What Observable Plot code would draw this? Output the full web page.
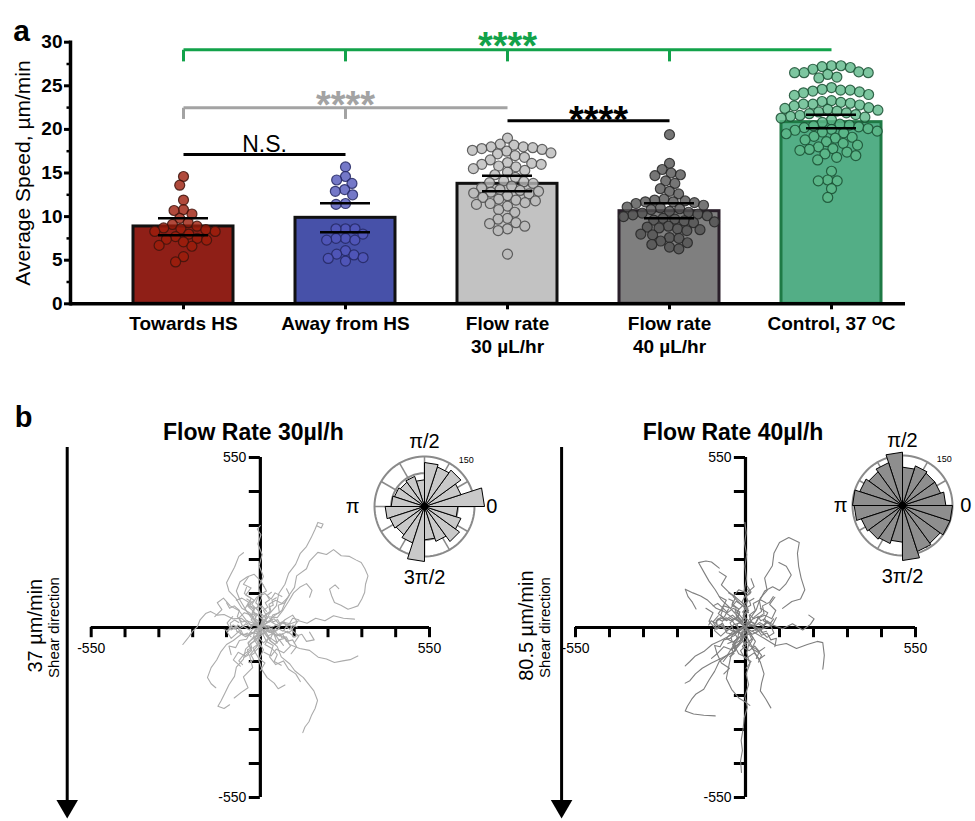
<!DOCTYPE html>
<html><head><meta charset="utf-8">
<script src="https://cdn.jsdelivr.net/npm/d3@7"></script>
<script src="https://cdn.jsdelivr.net/npm/@observablehq/plot@0.6"></script>
<style>
body{margin:0;background:#fff;}
#fig{position:relative;width:975px;height:821px;overflow:hidden;background:#fff;font-family:"Liberation Sans",Arial,Helvetica,sans-serif;}
#fig svg{position:absolute;overflow:visible;background:transparent !important;font-family:"Liberation Sans",Arial,Helvetica,sans-serif;}
</style></head><body><div id="fig"></div>
<script>
// ---------------- Panel a data ----------------
const cats = ["Towards HS", "Away from HS", "Flow rate\n30 µL/hr", "Flow rate\n40 µL/hr", "Control, 37 ᴼC"];
const towards = [14.6, 13.6, 11.9, 10.8, 10.7, 10.3, 9.8, 9.3, 9.1, 8.9, 8.7, 8.6, 8.5, 8.3, 8.3, 8.0, 7.7, 7.5, 7.4, 7.3, 7.1, 6.7, 6.6, 5.4, 4.8];
const away = [15.7, 14.6, 14.2, 13.8, 13.1, 12.9, 12.5, 11.5, 11.4, 8.6, 8.6, 8.6, 8.0, 7.5, 7.5, 7.3, 7.3, 6.1, 5.7, 5.6, 5.3, 5.2, 4.9];
const flow30 = [19.0, 18.3, 18.2, 18.0, 18.0, 17.9, 17.8, 17.7, 17.6, 17.5, 17.3, 17.2, 17.0, 16.8, 16.5, 16.2, 16.1, 16.0, 16.0, 15.8, 15.7, 15.5, 15.3, 15.1, 14.8, 14.5, 14.1, 14.0, 13.9, 13.8, 13.5, 13.3, 13.1, 13.0, 12.9, 12.8, 12.7, 12.6, 12.4, 12.2, 12.0, 11.9, 11.8, 11.6, 11.5, 11.4, 11.2, 10.8, 10.5, 9.8, 9.7, 9.3, 9.2, 8.9, 8.6, 8.4, 5.7];
const flow40 = [19.4, 16.1, 15.4, 15.0, 14.8, 14.7, 14.1, 13.8, 13.2, 12.9, 12.6, 12.0, 11.9, 11.8, 11.7, 11.7, 11.6, 11.5, 11.3, 11.1, 11.0, 10.9, 10.8, 10.6, 10.5, 10.4, 10.3, 10.2, 10.1, 10.0, 9.8, 9.7, 9.6, 9.5, 9.4, 9.3, 8.9, 8.8, 8.7, 8.6, 8.5, 8.4, 8.0, 7.9, 7.6, 7.5, 7.2, 7.0, 6.8, 6.5, 6.3];
const control = [27.3, 27.2, 27.3, 27.1, 26.9, 26.6, 26.5, 26.5, 26.5, 26.3, 26.0, 25.9, 24.8, 24.6, 24.5, 24.5, 24.4, 24.3, 24.2, 24.0, 23.9, 23.3, 23.2, 23.1, 23.0, 22.9, 22.9, 22.8, 22.7, 22.5, 22.4, 22.3, 22.2, 22.1, 22.0, 21.9, 21.8, 21.7, 21.6, 21.5, 21.4, 21.3, 21.1, 20.8, 20.6, 20.5, 20.4, 20.3, 20.2, 20.1, 20.0, 19.9, 19.8, 19.7, 19.6, 19.5, 19.2, 19.1, 19.0, 18.8, 18.6, 18.4, 18.2, 18.0, 17.8, 17.7, 17.6, 17.4, 17.2, 17.0, 16.8, 16.5, 15.2, 14.2, 14.1, 14.1, 13.2, 12.2];
const means = [8.87, 9.86, 13.76, 10.62, 20.83];
const errLo = [7.87, 8.21, 12.92, 9.82, 20.14];
const errHi = [9.82, 11.54, 14.68, 11.54, 21.67];
const yTicksA = [0, 5, 10, 15, 20, 25, 30];
const yMinorA = [2.5, 7.5, 12.5, 17.5, 22.5, 27.5];
// significance brackets (values in µm/min)
const sigLines = [
  {from: 0, to: 4, y: 29.13, c: 0},
  {from: 0, to: 2, y: 22.48, c: 1},
  {from: 2, to: 3, y: 21.0, c: 2},
  {from: 0, to: 1, y: 17.12, c: 2}
];
const sigDrops = [
  {at: 0, y1: 29.13, y2: 27.8, c: 0}, {at: 1, y1: 29.13, y2: 27.8, c: 0},
  {at: 2, y1: 29.13, y2: 27.8, c: 0}, {at: 3, y1: 29.13, y2: 27.8, c: 0},
  {at: 0, y1: 22.48, y2: 21.2, c: 1}, {at: 1, y1: 22.48, y2: 21.2, c: 1}
];
const sigText = [
  {at: 2, y: 29.48, t: "****", c: 0, dx: 0, size: 38, w: "bold"},
  {at: 1, y: 22.72, t: "****", c: 1, dx: 0, size: 38, w: "bold"},
  {at: 2, y: 21.0, t: "****", c: 2, dx: 91, size: 38, w: "bold"},
  {at: 0, y: 18.31, t: "N.S.", c: 2, dx: 81, size: 23, w: "normal"}
];

// styles
const FONT = '"Liberation Sans", Arial, Helvetica, sans-serif';
const barFill = ["#8f1f17", "#4751a9", "#c2c2c2", "#7f7f7f", "#53ae86"];
const barStroke = ["#111111", "#111111", "#111111", "#2a1f2a", "#1e7a45"];
const dotFill = ["#9c1d0b", "#5156ba", "#bababa", "#545454", "#5cb888"];
const dotStroke = ["#3e140d", "#242863", "#4a4a4a", "#262626", "#1a4f33"];
const sigColor = ["#12a24a", "#a3a3a3", "#000000"];

const fig = document.getElementById("fig");
function place(svg, left, top) {
  svg.style.position = "absolute";
  svg.style.left = left + "px";
  svg.style.top = top + "px";
  fig.appendChild(svg);
}

const bars = cats.map((c, i) => ({cat: c, i, mean: means[i], lo: errLo[i], hi: errHi[i]}));
const pts = [];
[towards, away, flow30, flow40, control].forEach((arr, i) => arr.forEach(v => pts.push({cat: cats[i], i, v})));

const dimA = {width: 975, height: 370, marginLeft: 70, marginRight: 70, marginTop: 41.7, marginBottom: 66.7};

const mainA = Plot.plot({
  ...dimA,
  fx: {domain: cats, paddingInner: 0.385, paddingOuter: 0.258, align: 0.726, label: null},
  y: {domain: [0, 30], axis: null},
  color: {type: "identity"},
  marks: [
    Plot.barY(bars, {fx: "cat", y: "mean", fill: d => barFill[d.i], stroke: d => barStroke[d.i], strokeWidth: 3}),
    Plot.dot(pts, Plot.dodgeX({anchor: "middle", padding: -0.5}, {fx: "cat", y: "v", r: 5, fill: d => dotFill[d.i], fillOpacity: 0.8, stroke: d => dotStroke[d.i], strokeOpacity: 0.85, strokeWidth: 1.2})),
    Plot.ruleX(bars, {fx: "cat", y1: "lo", y2: "hi", stroke: "#000", strokeWidth: 2.5}),
    Plot.ruleY(bars, {fx: "cat", y: "lo", insetLeft: 25, insetRight: 25, stroke: "#000", strokeWidth: 2.5}),
    Plot.ruleY(bars, {fx: "cat", y: "hi", insetLeft: 25, insetRight: 25, stroke: "#000", strokeWidth: 2.5}),
    Plot.axisFx({anchor: "bottom", tickSize: 6, tickPadding: 4, strokeWidth: 3, fontSize: 19, fontWeight: "bold", lineHeight: 1.22, fontFamily: FONT, fill: "#000", label: null})
  ]
});
place(mainA, 0, 0);

const overA = Plot.plot({
  ...dimA,
  x: {type: "point", domain: cats, padding: 0.566, align: 0.603, axis: null},
  y: {domain: [0, 30]},
  color: {type: "identity"},
  marks: [
    Plot.axisY({ticks: yTicksA, tickSize: 6, tickPadding: 2, strokeWidth: 3, fontSize: 19, fontWeight: "bold", fontFamily: FONT, fill: "#000", label: null}),
    Plot.axisY({ticks: yMinorA, tickSize: 3.5, strokeWidth: 2.5, tickFormat: () => "", label: null}),
    Plot.frame({anchor: "left", strokeWidth: 3.5, stroke: "#000"}),
    Plot.ruleY([0], {strokeWidth: 3.5, stroke: "#000"}),
    Plot.link(sigLines, {x1: d => cats[d.from], x2: d => cats[d.to], y1: "y", y2: "y", stroke: d => sigColor[d.c], strokeWidth: 3}),
    Plot.link(sigDrops, {x1: d => cats[d.at], x2: d => cats[d.at], y1: "y1", y2: "y2", stroke: d => sigColor[d.c], strokeWidth: 3}),
    ...sigText.map(d => Plot.text([d], {x: e => cats[e.at], y: "y", text: "t", dx: d.dx, fill: sigColor[d.c], fontSize: d.size, fontWeight: d.w, fontFamily: FONT})),
    Plot.text(["Average Speed, µm/min"], {text: d => d, frameAnchor: "left", rotate: -90, dx: -47, textAnchor: "middle", fontSize: 21, fontFamily: FONT, fill: "#000"}),
    Plot.text(["a"], {text: d => d, frameAnchor: "top-left", dx: -49, dy: -23, textAnchor: "middle", fontSize: 30, fontWeight: "bold", fontFamily: FONT, fill: "#000"})
  ]
});
place(overA, 0, 0);

// ---------------- Panel b data (µm) ----------------
const axisTicks = [-550, -440, -330, -220, -110, 110, 220, 330, 440, 550];
const tracks30 = [
  [[0,0],[25,18],[48,40],[70,55],[85,92],[111,130],[118,167],[150,190],[160,215],[187,243],[215,236],[238,252],[263,232],[290,230],[312,218],[328,210],[340,190],[350,167],[342,140],[339,113],[330,92],[317,70],[300,64],[285,59],[262,72],[241,81],[232,102],[225,124],[243,138],[255,126]],
  [[10,10],[30,45],[52,70],[60,110],[80,140],[92,175],[115,205],[130,240],[150,262],[165,290],[178,318],[187,340],[204,335],[198,322],[185,328]],
  [[-5,-10],[8,30],[-12,62],[4,95],[-6,130],[10,165],[-4,200],[6,236],[-8,270],[2,300],[-10,318],[0,330]],
  [[-10,5],[-40,12],[-62,30],[-90,28],[-118,42],[-140,40],[-162,52],[-178,45],[-196,25],[-205,2],[-220,-12],[-232,-30],[-240,-40],[-252,-55]],
  [[-15,20],[-35,48],[-60,62],[-80,95],[-102,118],[-110,145],[-96,172],[-84,195],[-70,230],[-55,242]],
  [[-5,-15],[-22,-45],[-48,-70],[-55,-102],[-78,-128],[-84,-158],[-102,-185],[-115,-212],[-128,-238],[-138,-255],[-118,-262],[-100,-250]],
  [[8,-12],[30,-40],[55,-62],[68,-95],[96,-118],[112,-140],[140,-162],[158,-185],[174,-205],[186,-236],[178,-262],[166,-285],[158,-305],[145,-322],[138,-340]],
  [[15,-5],[45,-22],[78,-30],[95,-55],[128,-68],[160,-74],[188,-96],[215,-102],[241,-113],[268,-108],[292,-104],[317,-92]],
  [[12,8],[40,2],[70,18],[98,12],[125,22],[152,14],[180,30],[210,22],[238,38],[270,30],[306,27]],
  [[0,-8],[-8,-40],[10,-72],[-5,-105],[6,-138],[22,-162],[45,-180],[58,-198],[80,-186]],
  [[5,15],[28,35],[55,32],[75,58],[92,85],[108,112],[128,130],[150,142],[168,120],[160,98]],
  [[-12,-12],[-38,-25],[-62,-22],[-88,-42],[-110,-55],[-128,-78],[-142,-105],[-160,-130],[-172,-162],[-160,-182],[-145,-195]],
  [[-8,12],[-30,32],[-48,58],[-66,88],[-78,118],[-66,148],[-42,164],[-20,172],[2,150],[12,132]],
  [[0,0],[-20,15],[-35,-8],[-58,5],[-70,30],[-52,48],[-30,40],[-18,62],[5,70],[20,52]],
  [[5,-5],[22,-28],[45,-18],[60,-40],[82,-35],[98,-60],[76,-82],[52,-70],[35,-92],[12,-80]],
  [[-3,4],[-25,-18],[-48,-30],[-72,-15],[-95,-35],[-110,-12],[-88,8],[-64,-5]],
  [[2,2],[18,30],[-5,52],[-28,75],[-12,98],[15,110],[35,92],[48,112],[70,100]],
  [[0,-3],[-15,-30],[-40,-48],[-28,-75],[-50,-92],[-72,-80],[-88,-105],[-65,-125]],
  [[4,6],[32,20],[58,5],[80,25],[105,40],[120,18],[102,-8],[125,-28],[110,-50]],
  [[-2,-2],[20,-45],[42,-58],[30,-95],[50,-120],[75,-108],[92,-135],[115,-150],[130,-175]],
  [[-6,8],[-45,22],[-70,55],[-98,70],[-120,95],[-140,80],[-125,58],[-148,35]],
  [[3,-6],[-10,-60],[-35,-90],[-25,-130],[-55,-160],[-40,-195],[-62,-210],[-85,-228]],
  [[0,5],[15,-18],[-12,-25],[10,-50],[30,-32],[55,-50],[40,-10],[65,8],[45,28],[20,18]],
  [[-4,0],[-30,25],[-15,45],[-42,70],[-20,88],[-48,105],[-30,128],[-55,140],[-38,165]],
  [[6,3],[40,-5],[62,-28],[88,-12],[110,-30],[135,-22],[150,-45],[175,-40],[160,-15]],
  [[0,0],[-15,12],[-30,5],[-42,22],[-60,18],[-75,35],[-68,55],[-85,70],[-100,62],[-110,80]],
  [[0,0],[12,22],[30,18],[40,40],[62,48],[58,72],[80,80],[95,105],[85,125]],
  [[0,0],[18,-15],[35,-8],[50,-28],[72,-20],[85,-45],[105,-40],[118,-62],[100,-85]],
  [[0,0],[-12,-20],[-32,-15],[-45,-38],[-68,-42],[-80,-65],[-102,-60],[-95,-88]],
  [[0,0],[8,25],[-10,40],[5,62],[-15,80],[-5,105],[20,118],[8,140]],
  [[0,0],[5,-25],[-15,-38],[0,-60],[-18,-78],[-5,-100],[15,-115],[0,-140]],
  [[0,0],[-25,-5],[-40,-25],[-62,-20],[-75,2],[-95,-8],[-108,15],[-90,35]],
  [[0,0],[25,5],[38,-15],[58,-5],[70,15],[92,8],[105,30],[125,25]],
  [[0,0],[-10,18],[-28,35],[-20,58],[-40,72],[-30,95],[-52,110],[-45,130]],
  [[0,0],[15,-10],[28,-32],[15,-55],[38,-68],[55,-88],[45,-110],[68,-122]],
  [[0,0],[-18,-8],[-22,-30],[-40,-52],[-30,-72],[-52,-85],[-70,-108],[-58,-120]],
  [[0,0],[20,15],[15,38],[35,52],[28,75],[50,88],[70,78],[88,95]],
  [[0,0],[-8,-12],[10,-22],[22,-8],[40,-20],[30,-42],[48,-55],[62,-40],[75,-58]],
  [[0,0],[-20,22],[-12,45],[-35,40],[-50,60],[-38,82],[-60,95],[-78,88]],
  [[0,0],[-10,8],[-4,20],[-16,28],[-12,42],[-26,50],[-20,64],[-34,70],[-30,84],[-44,92]],
  [[0,0],[10,-8],[22,-4],[28,-16],[42,-12],[50,-26],[64,-20],[70,-34],[84,-30],[92,-44]],
  [[0,0],[12,10],[8,24],[22,30],[18,44],[32,52],[28,66],[42,72],[38,88],[52,96]],
  [[0,0],[-12,-10],[-8,-24],[-22,-30],[-18,-44],[-32,-52],[-28,-66],[-42,-72],[-38,-88],[-52,-96]],
  [[-20,10],[-34,2],[-48,12],[-60,0],[-74,8],[-82,-6],[-96,2],[-104,-12],[-118,-6]],
  [[20,-10],[34,-2],[48,-14],[60,-4],[74,-12],[84,2],[96,-6],[106,8],[120,2]],
  [[5,30],[18,42],[10,56],[24,66],[16,80],[30,90],[22,104],[36,114]],
  [[-5,-30],[-18,-42],[-10,-56],[-24,-66],[-16,-80],[-30,-90],[-22,-104],[-36,-114]],
  [[-30,-30],[-42,-18],[-56,-24],[-62,-10],[-76,-14],[-80,2],[-94,-2],[-98,14],[-84,24],[-70,16]],
  [[30,30],[42,18],[56,26],[64,12],[78,18],[84,4],[98,8],[104,-8],[90,-18],[76,-10]]
];
const tracks40 = [
  [[0,-15],[12,-48],[4,-82],[14,-118],[2,-150],[10,-185],[-2,-222],[6,-258],[-4,-292],[-8,-330],[-14,-365],[-10,-398],[-16,-432],[-13,-469]],
  [[4,12],[-6,48],[6,85],[-4,120],[3,158],[-2,198],[4,236],[-3,272],[2,306],[-2,340]],
  [[12,25],[35,58],[48,95],[70,120],[62,160],[87,200],[92,240],[110,275],[140,291],[174,275],[168,240],[172,198],[180,160],[192,122],[178,92],[150,84],[120,62]],
  [[22,-12],[60,-35],[98,-58],[132,-52],[165,-68],[200,-55],[232,-45],[250,-49],[255,-90],[252,-120],[250,-135]],
  [[18,6],[52,-6],[88,8],[120,-4],[152,12],[185,-8],[210,10],[222,28],[205,40]],
  [[-10,-20],[-35,-52],[-58,-88],[-85,-110],[-100,-142],[-118,-170],[-135,-200],[-160,-215],[-174,-232],[-188,-255],[-195,-270],[-168,-280],[-135,-284],[-98,-286]],
  [[-12,14],[-40,30],[-70,52],[-95,62],[-122,88],[-145,102],[-170,112],[-195,124],[-186,100],[-172,82],[-160,60]],
  [[-15,-8],[-48,-25],[-80,-42],[-108,-55],[-135,-78],[-162,-92],[-180,-110],[-195,-124]],
  [[-8,18],[-30,42],[-55,68],[-80,92],[-98,122],[-118,150],[-135,180],[-152,210],[-128,215],[-110,212],[-85,192]],
  [[-4,-30],[-28,-62],[-48,-95],[-55,-130],[-62,-165],[-45,-200],[-22,-228],[-2,-240],[14,-252]],
  [[10,-40],[28,-78],[48,-112],[60,-150],[52,-180],[48,-205],[66,-232],[82,-260]],
  [[8,10],[30,35],[52,52],[45,85],[62,118],[88,132],[110,120],[130,140],[148,170],[132,198],[108,210]],
  [[-20,20],[-42,40],[-65,25],[-88,45],[-70,70],[-48,62],[-30,85],[-8,70],[10,48]],
  [[0,0],[22,-22],[48,-10],[70,-32],[92,-18],[80,10],[58,22],[72,48],[48,62]],
  [[-5,5],[-30,-15],[-55,-5],[-80,-28],[-100,-10],[-92,22],[-68,35],[-55,60]],
  [[2,-4],[-12,-38],[-38,-55],[-22,-85],[5,-98],[28,-82],[45,-102],[62,-90]],
  [[-10,30],[10,55],[-18,78],[-40,100],[-22,122],[5,112],[28,132],[18,158]],
  [[-15,-10],[-35,12],[-60,-12],[-75,15],[-95,-5],[-118,20],[-105,48],[-128,62]],
  [[5,15],[28,5],[40,30],[62,40],[85,28],[98,55],[78,75],[95,98]],
  [[-8,-15],[-20,-50],[-45,-72],[-70,-62],[-92,-85],[-78,-115],[-52,-132],[-70,-150]],
  [[0,8],[-25,-8],[-12,-30],[15,-20],[32,-45],[20,-68],[40,-80],[62,-65]],
  [[-25,35],[-50,15],[-38,-10],[-62,-35],[-40,-48],[-20,-30],[-2,-55],[20,-38],[8,-10]],
  [[-3,20],[-28,52],[-5,75],[-32,98],[-55,115],[-78,138],[-62,165],[-85,180]],
  [[-10,-45],[-40,-80],[-75,-98],[-110,-115],[-140,-132],[-162,-150],[-180,-172],[-195,-180]],
  [[0,0],[-18,15],[-35,10],[-48,30],[-62,22],[-80,40],[-72,62],[-90,78],[-105,70]],
  [[0,0],[15,20],[32,12],[45,35],[60,45],[55,70],[78,82],[90,100]],
  [[0,0],[20,-12],[38,-5],[52,-25],[70,-18],[82,-40],[100,-35],[95,-62]],
  [[0,0],[-15,-18],[-35,-12],[-48,-35],[-70,-40],[-82,-62],[-100,-58],[-92,-85],[-110,-100]],
  [[0,0],[10,22],[-8,38],[8,60],[-12,82],[-2,100],[18,115],[5,135]],
  [[0,0],[8,-22],[-12,-35],[2,-58],[-16,-75],[-3,-98],[18,-110],[2,-132]],
  [[0,0],[-22,-3],[-38,-22],[-60,-18],[-72,5],[-92,-5],[-105,18],[-88,38]],
  [[0,0],[22,8],[35,-12],[55,-2],[68,18],[88,10],[100,32]],
  [[0,0],[-12,20],[-30,38],[-22,60],[-42,75],[-32,98],[-55,112]],
  [[0,0],[12,-12],[25,-35],[12,-58],[35,-70],[52,-90],[42,-112]],
  [[0,0],[-20,-10],[-25,-32],[-42,-55],[-32,-75],[-55,-88],[-72,-110]],
  [[0,0],[18,18],[12,40],[32,55],[25,78],[48,90],[66,80]],
  [[-10,10],[-30,28],[-18,50],[-40,62],[-58,48],[-75,65],[-62,88],[-85,100]],
  [[5,-5],[-15,-20],[5,-40],[-10,-62],[12,-75],[30,-60],[45,-78],[35,-100]],
  [[-15,20],[-25,30],[-20,44],[-34,50],[-30,64],[-44,72],[-40,86],[-54,92]],
  [[-15,20],[-5,12],[8,16],[14,4],[28,8],[34,-6],[48,-2],[54,-16],[68,-12]],
  [[-15,20],[-3,30],[-7,44],[7,50],[3,64],[17,72],[13,86],[27,94]],
  [[-15,20],[-27,10],[-23,-4],[-37,-10],[-33,-24],[-47,-32],[-43,-46],[-57,-52]],
  [[-35,30],[-49,22],[-63,32],[-75,20],[-89,28],[-97,14],[-111,22],[-119,8]],
  [[5,10],[19,18],[33,6],[45,16],[59,8],[69,22],[81,14],[91,28]],
  [[-10,50],[3,62],[-5,76],[9,86],[1,100],[15,110],[7,124]],
  [[-20,-10],[-33,-22],[-25,-36],[-39,-46],[-31,-60],[-45,-70],[-37,-84],[-51,-94]],
  [[-45,-10],[-57,2],[-71,-4],[-77,10],[-91,6],[-95,22],[-81,32],[-67,24]],
  [[15,40],[27,28],[41,36],[49,22],[63,28],[69,14],[55,4],[41,12]]
];
// rose histograms: 20 bins of 18°, counter-clockwise from 0
const rose30 = [180, 115, 135, 125, 132, 80, 95, 90, 95, 100, 118, 110, 105, 115, 165, 100, 110, 130, 115, 100];
const rose40 = [130, 120, 120, 125, 115, 160, 135, 125, 135, 150, 145, 130, 125, 120, 110, 165, 145, 140, 150, 150];
const roseRings = [50, 100, 150];
const roseLabels = [
  {t: "π/2", x: 0, y: 195, a: "middle", s: 20},
  {t: "3π/2", x: 0, y: -213, a: "middle", s: 20},
  {t: "150", x: 125, y: 140, a: "middle", s: 9}
];

function trackPlot({tracks, color, title, speed, dims, arrowX, labX1, labX2, panelLabel}) {
  const rows = tracks.flatMap((t, id) => t.map(([x, y]) => ({id, x, y})));
  const marks = [
    Plot.ruleY([0], {x1: -550, x2: 550, stroke: "#000", strokeWidth: 3.2}),
    Plot.ruleX([0], {y1: -550, y2: 550, stroke: "#000", strokeWidth: 3.2}),
    Plot.ruleX(axisTicks, {x: d => d, y1: 0, y2: -33, stroke: "#000", strokeWidth: 3}),
    Plot.ruleY(axisTicks, {y: d => d, x1: 0, x2: -36, stroke: "#000", strokeWidth: 3}),
    Plot.line(rows, {x: "x", y: "y", z: "id", stroke: color, strokeWidth: 1.1, curve: "linear"}),
    Plot.text([-550, 550], {x: d => d, y: 0, text: d => String(d), dy: 21, fontSize: 14, fontFamily: FONT, fill: "#000"}),
    Plot.text([-550, 550], {x: 0, y: d => d, text: d => String(d), dx: -14, textAnchor: "end", fontSize: 14, fontFamily: FONT, fill: "#000"}),
    Plot.ruleX([arrowX], {x: d => d, y1: 582, y2: -590, stroke: "#000", strokeWidth: 3}),
    Plot.dot([arrowX], {x: d => d, y: -578, symbol: "triangle", r: 8, rotate: 180, fill: "#000", stroke: "none"}),
    Plot.text([speed], {x: labX1, y: 6, text: d => d, rotate: -90, fontSize: 20, fontFamily: FONT, fill: "#000"}),
    Plot.text(["Shear direction"], {x: labX2, y: 0, text: d => d, rotate: -90, fontSize: 15, fontFamily: FONT, fill: "#000"}),
    Plot.text([title], {text: d => d, frameAnchor: "top", dx: dims.tdx, dy: -33.5, fontSize: 23, fontWeight: "bold", fontFamily: FONT, fill: "#000"})
  ];
  if (panelLabel) marks.push(Plot.text([panelLabel], {text: d => d, frameAnchor: "top-left", dx: -67.7, dy: -51, textAnchor: "middle", fontSize: 29, fontWeight: "bold", fontFamily: FONT, fill: "#000"}));
  return Plot.plot({
    width: 480, height: 426, marginLeft: dims.ml, marginRight: dims.mr, marginTop: 62, marginBottom: 24,
    x: {domain: [-550, 550], axis: null},
    y: {domain: [-550, 550], axis: null},
    marks
  });
}

place(trackPlot({tracks: tracks30, color: "#ababab", title: "Flow Rate 30µl/h", speed: "37 µm/min",
  dims: {ml: 90.7, mr: 51, tdx: -7}, arrowX: -628, labX1: -731, labX2: -670, panelLabel: "b"}), 0, 395);
place(trackPlot({tracks: tracks40, color: "#7f7f7f", title: "Flow Rate 40µl/h", speed: "80.5 µm/min",
  dims: {ml: 95, mr: 45, tdx: -12.5}, arrowX: -595, labX1: -709, labX2: -648}), 480, 395);

function rosePlot(values, fill, piX, zeroX) {
  const step = 360 / values.length;
  const rad = a => a * Math.PI / 180;
  const wedges = values.flatMap((r, k) => {
    const a1 = rad(k * step), a2 = rad((k + 1) * step);
    return [{k, x: 0, y: 0}, {k, x: r * Math.cos(a1), y: r * Math.sin(a1)}, {k, x: r * Math.cos(a2), y: r * Math.sin(a2)}, {k, x: 0, y: 0}];
  });
  const rings = roseRings.flatMap(r => d3.range(0, 361, 4).map(a => ({r, x: r * Math.cos(rad(a)), y: r * Math.sin(rad(a))})));
  const spokes = d3.range(0, 360, 30).map(a => ({x: 150 * Math.cos(rad(a)), y: 150 * Math.sin(rad(a))}));
  const labels = [...roseLabels, {t: "π", x: piX, y: 0, a: "end", s: 20}, {t: "0", x: zeroX, y: 0, a: "start", s: 20}];
  return Plot.plot({
    width: 170, height: 170, margin: 0,
    x: {domain: [-255, 255], axis: null},
    y: {domain: [-255, 255], axis: null},
    marks: [
      Plot.link(spokes, {x1: 0, y1: 0, x2: "x", y2: "y", stroke: "#8a8a8a", strokeWidth: 1.5}),
      Plot.line(rings, {x: "x", y: "y", z: "r", stroke: "#8a8a8a", strokeWidth: 2}),
      Plot.line(wedges, {x: "x", y: "y", z: "k", fill: fill, stroke: "#000", strokeWidth: 1, curve: "linear-closed"}),
      Plot.dot([0], {x: 0, y: 0, r: 3.5, fill: "#000"}),
      ...labels.map(l => Plot.text([l], {x: "x", y: "y", text: "t", textAnchor: l.a, fontSize: l.s, fontFamily: FONT, fill: "#000"}))
    ]
  });
}
place(rosePlot(rose30, "#c9c9c9", -195, 185), 338.5, 421);
place(rosePlot(rose40, "#8e8e8e", -165, 173), 817.3, 420.3);
</script></body></html>
